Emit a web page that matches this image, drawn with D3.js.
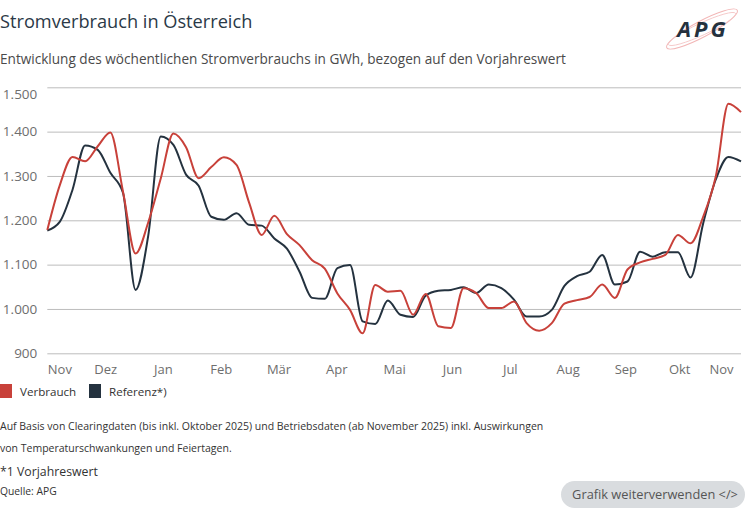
<!DOCTYPE html>
<html><head><meta charset="utf-8">
<script src="https://cdn.jsdelivr.net/npm/d3@7"></script>
<style>
html,body{margin:0;padding:0;background:#fff;}
svg{display:block;font-family:"Open Sans",sans-serif;}
</style></head>
<body>
<svg id="chart" width="750" height="514"></svg>
<script>
// ---- data ----
const months = ["Nov","Dez","Jan","Feb","Mär","Apr","Mai","Jun","Jul","Aug","Sep","Okt","Nov"];
const yTicks = [900,1000,1100,1200,1300,1400,1500];
const seriesNames = ["Verbrauch","Referenz*)"];
const verbrauch = [1178,1280,1343,1333,1367,1398,1265,1125,1195,1295,1396,1365,1295,1320,1342,1325,1240,1167,1210,1169,1144,1110,1091,1035,998,945,1054,1039,1041,987,1034,961,957,1047,1036,1002,1002,1017,968,951,968,1012,1020,1027,1055,1025,1089,1105,1113,1122,1167,1148,1208,1299,1463,1444];
const referenz = [1177,1197,1269,1369,1359,1307,1262,1043,1165,1389,1370,1303,1278,1208,1201,1216,1190,1188,1159,1136,1084,1025,1023,1092,1099,972,966,1019,987,982,1030,1041,1043,1049,1036,1055,1047,1021,983,983,998,1052,1074,1084,1122,1055,1062,1129,1118,1128,1128,1071,1193,1292,1343,1333];
const weeks = d3.range(verbrauch.length);

const colors = ["#c8413a","#24323f"];
const svg = d3.select("#chart");
const L = 47.3, R = 741, T = 87.3, B = 353.3;

const x = d3.scaleLinear().domain([0, weeks.length-1]).range([L, R]);
const xm = d3.scaleLinear().domain([0, months.length-1]).range([L, R]);
const y = d3.scaleLinear().domain([900,1500]).range([B, T]);

// title
svg.append("text").attr("x",0).attr("y",28).attr("font-size",18.2).attr("fill","#2b3947").text("Stromverbrauch in Österreich");
svg.append("text").attr("x",0).attr("y",64).attr("font-size",13.6).attr("fill","#4a4a4a").text("Entwicklung des wöchentlichen Stromverbrauchs in GWh, bezogen auf den Vorjahreswert");

// logo
const logo = svg.append("g").attr("transform","translate(702,29)");
logo.append("ellipse").attr("rx",40).attr("ry",8).attr("transform","rotate(-28)").attr("fill","none").attr("stroke","#f2b6b6").attr("stroke-width",1);
logo.append("ellipse").attr("rx",37).attr("ry",6).attr("transform","rotate(-25)").attr("fill","none").attr("stroke","#f4c4c4").attr("stroke-width",0.8);
logo.append("text").attr("x",1).attr("y",8).attr("text-anchor","middle").attr("font-size",22).attr("font-weight",700).attr("font-style","italic").attr("letter-spacing",3).attr("fill","#24313e").text("APG");

// grid + y labels
const yAxis = d3.axisLeft(y).tickValues(yTicks).tickSize(-(R-L)).tickFormat(d => d3.format(",")(d).replace(/,/g,"."));
const ga = svg.append("g").attr("transform",`translate(${L},0)`).call(yAxis);
ga.select(".domain").remove();
ga.selectAll(".tick line").attr("stroke","#bdbdbd").attr("stroke-width",1);
ga.selectAll(".tick text").attr("x",-10).attr("font-size",13.5).attr("fill","#6e6e6e").attr("font-family","'Open Sans',sans-serif")
  .attr("dy", d => d===1500 ? "0.85em" : "0.32em");

// x labels
const xAxis = d3.axisBottom(xm).tickValues(d3.range(months.length)).tickSize(0).tickFormat(i => months[i]);
const gx = svg.append("g").attr("transform",`translate(0,${B})`).call(xAxis);
gx.select(".domain").remove();
gx.selectAll(".tick text").attr("y",11).attr("font-size",13).attr("fill","#6e6e6e").attr("font-family","'Open Sans',sans-serif")
  .attr("text-anchor", i => i===0 ? "start" : "middle")
  .attr("dx", i => i===months.length-1 ? -20 : (i===months.length-2 ? -4 : 0));

// lines
const line = d3.line().x((d,i)=>x(i)).y(d=>y(d)).curve(d3.curveMonotoneX);
[referenz, verbrauch].forEach((s,k)=>{
  svg.append("path").datum(s).attr("d",line).attr("fill","none")
    .attr("stroke", k===0 ? colors[1] : colors[0]).attr("stroke-width",2).attr("stroke-linejoin","round");
});

// legend
const lg = svg.append("g").attr("transform","translate(0,384)");
const lx = [0, 89];
seriesNames.forEach((n,i)=>{
  lg.append("rect").attr("x",lx[i]).attr("y",0).attr("width",12).attr("height",14).attr("fill",colors[i]);
  lg.append("text").attr("x",lx[i]+20).attr("y",11.5).attr("font-size",11.6).attr("fill","#333").text(n);
});

// footnotes
const fn = svg.append("g").attr("fill","#333");
fn.append("text").attr("x",0).attr("y",430).attr("font-size",10.5).text("Auf Basis von Clearingdaten (bis inkl. Oktober 2025) und Betriebsdaten (ab November 2025) inkl. Auswirkungen");
fn.append("text").attr("x",0).attr("y",452).attr("font-size",10.5).text("von Temperaturschwankungen und Feiertagen.");
fn.append("text").attr("x",0).attr("y",476).attr("font-size",12.3).text("*1 Vorjahreswert");
fn.append("text").attr("x",0).attr("y",495).attr("font-size",10.3).text("Quelle: APG");

// button
svg.append("rect").attr("x",561).attr("y",481).attr("width",184).attr("height",27).attr("rx",13.5).attr("fill","#d9dcdf");
svg.append("text").attr("x",655).attr("y",499).attr("text-anchor","middle").attr("font-size",12.8).attr("fill","#555").text("Grafik weiterverwenden </>");
</script>
</body></html>
